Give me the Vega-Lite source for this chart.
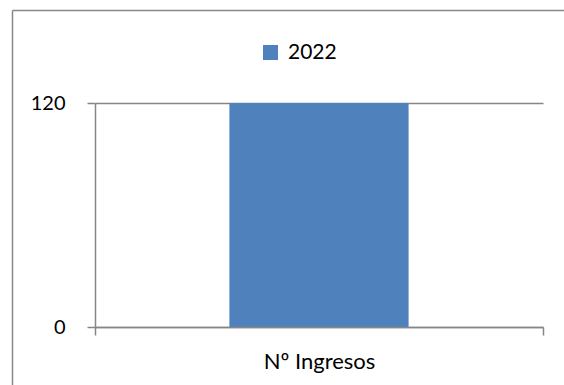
{
  "$schema": "https://vega.github.io/schema/vega-lite/v6.json",
  "width": 552,
  "height": 375,
  "padding": {"left": 12, "top": 10, "right": 0, "bottom": 0},
  "autosize": {"type": "none"},
  "background": "white",
  "config": {
    "view": {"stroke": null},
    "font": "Lato"
  },
  "data": {"values": [{"categoria": "Nº Ingresos", "serie": "2022", "valor": 120}]},
  "layer": [
    {
      "mark": {"type": "bar", "width": {"band": 0.4}},
      "encoding": {
        "x": {
          "field": "categoria",
          "type": "nominal",
          "scale": {"range": [83, 531], "paddingInner": 0, "paddingOuter": 0},
          "axis": {
            "orient": "bottom",
            "offset": -58,
            "title": null,
            "tickBand": "extent",
            "tickSize": 8,
            "tickColor": "#868686",
            "tickWidth": 1.5,
            "domainColor": "#868686",
            "domainWidth": 1.5,
            "labelAngle": 0,
            "labelFontSize": 22,
            "labelColor": "black",
            "labelPadding": 16,
            "zindex": 1
          }
        },
        "y": {
          "field": "valor",
          "type": "quantitative",
          "scale": {"domain": [0, 120], "range": [317, 93], "nice": false},
          "axis": {
            "orient": "left",
            "offset": -83,
            "title": null,
            "values": [0, 120],
            "grid": true,
            "gridColor": "#868686",
            "gridWidth": 1.5,
            "tickSize": 8,
            "tickColor": "#868686",
            "tickWidth": 1.5,
            "domainColor": "#868686",
            "domainWidth": 1.5,
            "labelFontSize": 20,
            "labelColor": "black",
            "labelPadding": 22
          }
        },
        "color": {
          "field": "serie",
          "type": "nominal",
          "scale": {"range": ["#4F81BD"]},
          "legend": {
            "orient": "none",
            "legendX": 248,
            "legendY": 32,
            "title": null,
            "padding": 0,
            "symbolType": "square",
            "symbolSize": 225,
            "symbolStrokeWidth": 0,
            "symbolOpacity": 1,
            "labelFontSize": 21,
            "labelColor": "black",
            "labelOffset": 7
          }
        }
      }
    },
    {
      "mark": {"type": "point", "opacity": 0},
      "encoding": {
        "x": {
          "field": "valor",
          "type": "quantitative",
          "scale": {"domain": [0, 1], "range": [0, 552]},
          "axis": {"orient": "top", "title": null, "ticks": false, "labels": false, "grid": false, "domainColor": "#878787", "domainWidth": 1.5}
        },
        "y": {
          "field": "valor",
          "type": "quantitative",
          "scale": {"domain": [0, 1], "range": [375, 0]},
          "axis": {"orient": "left", "title": null, "ticks": false, "labels": false, "grid": false, "domainColor": "#878787", "domainWidth": 1.5}
        }
      }
    }
  ],
  "resolve": {
    "scale": {"x": "independent", "y": "independent"},
    "axis": {"x": "independent", "y": "independent"}
  }
}
